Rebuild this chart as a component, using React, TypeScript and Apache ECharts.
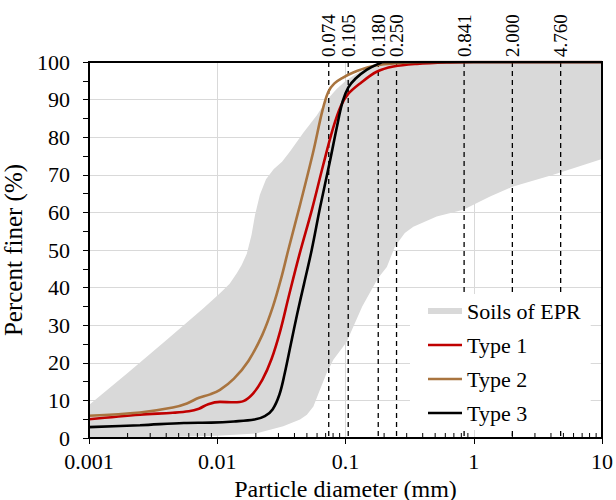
import React, { useEffect, useRef } from 'react';
import * as echarts from 'echarts';

const FONT = '"Liberation Serif", "Times New Roman", serif';

// Gray envelope "Soils of EPR": upper (finer) edge and lower edge, [diameter mm, % finer]
const bandUpper: [number, number][] = [
  [0.001, 8.8], [0.002, 17.3], [0.004, 26], [0.0078, 34.5], [0.0105, 38.5], [0.0125, 41],
  [0.0142, 43.8], [0.0155, 46], [0.017, 49], [0.0185, 54], [0.0197, 59.3], [0.0215, 64.7],
  [0.024, 68.8], [0.0275, 71.5], [0.032, 73.5], [0.0369, 76.2], [0.0469, 81.2], [0.0596, 85.8],
  [0.0713, 89.8], [0.0853, 92.8], [0.102, 95.2], [0.13, 97.5], [0.17, 98.8], [0.25, 99.7],
  [0.35, 100], [10, 100],
];
const bandLower: [number, number][] = [
  [0.001, 0], [0.005, 0.3], [0.01, 0.6], [0.02, 1.2], [0.0327, 3.1], [0.0442, 4.9], [0.05, 6.2],
  [0.0562, 8.4], [0.0632, 12.8], [0.0713, 17.3], [0.0804, 20.8], [0.102, 25.5], [0.135, 35],
  [0.179, 42.5], [0.21, 45.5], [0.243, 50.9], [0.29, 54.5], [0.338, 56.2], [0.514, 58.9],
  [0.83, 60.7], [1.34, 64.2], [2.03, 66.9], [4.17, 70], [10, 74.2],
];

const type1: [number, number][] = [
  [0.001, 5.0], [0.0025, 6.2], [0.0045, 6.7], [0.006, 7.1], [0.0072, 7.8], [0.0085, 9.0],
  [0.0105, 9.6], [0.0135, 9.5], [0.016, 9.8], [0.019, 11.8], [0.0225, 15.5], [0.0265, 21],
  [0.031, 28.5], [0.036, 37.5], [0.0435, 48.5], [0.055, 61], [0.067, 72.6],
  [0.08, 82.4], [0.092, 88.3], [0.105, 91.5], [0.13, 94.3], [0.175, 97.4], [0.236, 98.8],
  [0.36, 99.5], [0.65, 99.9], [1, 100], [10, 100],
];
const type2: [number, number][] = [
  [0.001, 5.9], [0.0025, 6.8], [0.0045, 8.1], [0.0058, 9.2], [0.0072, 10.7], [0.0088, 11.6],
  [0.0105, 12.8], [0.0135, 15.8], [0.0175, 20.5], [0.0225, 27.5], [0.0272, 35],
  [0.0318, 43], [0.0358, 50], [0.0442, 62], [0.0561, 76.2], [0.066, 87], [0.0735, 92.1],
  [0.082, 94.3], [0.095, 95.8], [0.115, 97.2], [0.15, 98.6], [0.2, 99.4], [0.28, 99.8],
  [0.4, 100], [10, 100],
];
const type3: [number, number][] = [
  [0.001, 2.9], [0.0025, 3.4], [0.0055, 4.0], [0.009, 4.1], [0.0135, 4.4], [0.0195, 4.9],
  [0.0235, 5.8], [0.027, 7.6], [0.0305, 11.5], [0.0335, 17], [0.0375, 25], [0.042, 33],
  [0.0475, 41], [0.0545, 50], [0.0635, 61.5], [0.0755, 73.5], [0.086, 83], [0.095, 89.5],
  [0.105, 93.2], [0.12, 95.6], [0.146, 97.9], [0.18, 99.5], [0.2, 100], [10, 100],
];

const sieveSizes = [0.074, 0.105, 0.18, 0.25, 0.841, 2.0, 4.76];
const sieveLabels = ['0.074', '0.105', '0.180', '0.250', '0.841', '2.000', '4.760'];

const xDecades = [0.001, 0.01, 0.1, 1, 10];
const xTickLabels = ['0.001', '0.01', '0.1', '1', '10'];

// log-spaced minor tick positions (2..9 within each decade)
const minorTicks: number[] = [];
for (let d = 0; d < xDecades.length - 1; d++) {
  for (let m = 2; m <= 9; m++) minorTicks.push(xDecades[d] * m);
}

export default function App() {
  const ref = useRef<HTMLDivElement>(null);

  useEffect(() => {
    if (!ref.current) return;
    const chart = echarts.init(ref.current, null, { renderer: 'svg' });

    const fmtX = (v: number) => {
      let best = 0;
      for (let i = 0; i < xDecades.length; i++) {
        if (Math.abs(Math.log10(v) - Math.log10(xDecades[i])) < Math.abs(Math.log10(v) - Math.log10(xDecades[best]))) best = i;
      }
      return xTickLabels[best];
    };

    const lineSeries = (name: string, data: [number, number][], color: string) => ({
      type: 'line',
      name,
      data,
      xAxisIndex: 0,
      yAxisIndex: 0,
      showSymbol: false,
      symbol: 'none',
      smooth: 0.35,
      lineStyle: { color, width: 2.6 },
      itemStyle: { color },
      z: 4,
    });

    const lineIcon = 'path://M0,0H34V2.6H0Z';

    chart.setOption({
      animation: false,
      grid: {
        left: 89, right: 14, top: 62, bottom: 62,
        outerBoundsMode: 'none',
        containLabel: false,
        show: true, borderColor: '#000', borderWidth: 2, backgroundColor: 'transparent', z: 10,
      },
      legend: {
        orient: 'vertical',
        left: 410,
        top: 294,
        padding: [6, 10, 6, 18],
        backgroundColor: '#fff',
        itemWidth: 34,
        itemHeight: 6,
        itemGap: 12,
        textStyle: { fontFamily: FONT, fontSize: 22, color: '#000' },
        data: [
          { name: 'Soils of EPR', icon: 'rect', itemStyle: { color: '#d9d9d9' } },
          { name: 'Type 1', icon: lineIcon },
          { name: 'Type 2', icon: lineIcon },
          { name: 'Type 3', icon: lineIcon },
        ],
        z: 20,
      },
      xAxis: [
        {
          type: 'log', logBase: 10, min: 0.001, max: 10, position: 'bottom', z: 6,
          name: 'Particle diameter (mm)', nameLocation: 'middle', nameGap: 25,
          nameTextStyle: { fontFamily: FONT, fontSize: 24, color: '#000' },
          axisLine: { show: true, lineStyle: { color: '#000', width: 2 } },
          axisTick: { show: true, inside: false, length: 6, lineStyle: { color: '#000', width: 1 } },
          axisLabel: { fontFamily: FONT, fontSize: 22, color: '#000', margin: 12, formatter: fmtX },
          splitLine: { show: false },
          minorTick: { show: false },
        },
        {
          type: 'log', logBase: 10, min: 0.001, max: 10, position: 'top', z: 0,
          axisLine: { show: false }, axisTick: { show: false }, axisLabel: { show: false },
          splitLine: { show: true, lineStyle: { color: '#d9d9d9', width: 1 } },
        },
      ],
      yAxis: [
        {
          type: 'value', min: 0, max: 100, interval: 5, position: 'left', z: 6,
          name: 'Percent finer (%)', nameLocation: 'middle', nameGap: 38,
          nameTextStyle: { fontFamily: FONT, fontSize: 25, color: '#000' },
          axisLine: { show: true, lineStyle: { color: '#000', width: 2 } },
          axisTick: { show: true, inside: false, length: 6, lineStyle: { color: '#000', width: 1 } },
          axisLabel: {
            fontFamily: FONT, fontSize: 22, color: '#000', margin: 19,
            formatter: (v: number) => (v % 10 === 0 ? String(v) : ''),
          },
          splitLine: { show: false },
        },
        {
          type: 'value', min: 0, max: 100, interval: 10, position: 'right', z: 0,
          axisLine: { show: false }, axisTick: { show: false }, axisLabel: { show: false },
          splitLine: { show: true, lineStyle: { color: '#d9d9d9', width: 1.2 } },
        },
      ],
      series: [
        {
          type: 'custom',
          name: 'Soils of EPR',
          xAxisIndex: 0, yAxisIndex: 0,
          itemStyle: { color: '#d9d9d9' },
          data: [[0.01, 50]],
          z: 1,
          renderItem: (_params: any, api: any) => {
            const pts = bandUpper.map((p) => api.coord(p))
              .concat(bandLower.slice().reverse().map((p) => api.coord(p)));
            return { type: 'polygon', shape: { points: pts }, style: { fill: '#d9d9d9', stroke: 'none' } };
          },
        },
        {
          type: 'custom',
          name: 'sieves',
          xAxisIndex: 0, yAxisIndex: 0,
          data: sieveSizes.map((v) => [v, 100]),
          z: 3,
          renderItem: (params: any, api: any) => {
            const x = api.value(0);
            const top = api.coord([x, 100]);
            const bot = api.coord([x, 0]);
            return {
              type: 'group',
              children: [
                {
                  type: 'line',
                  shape: { x1: top[0], y1: top[1], x2: bot[0], y2: bot[1] },
                  style: { stroke: '#000', lineWidth: 1.3, lineDash: [5, 4] },
                },
                {
                  type: 'text',
                  x: top[0],
                  y: top[1] - 5,
                  rotation: Math.PI / 2,
                  style: {
                    text: sieveLabels[params.dataIndex],
                    fill: '#000',
                    font: '19px "Liberation Serif"',
                    align: 'left',
                    verticalAlign: 'middle',
                  },
                },
              ],
            };
          },
        },
        lineSeries('Type 1', type1, '#c00000'),
        lineSeries('Type 2', type2, '#a9743f'),
        lineSeries('Type 3', type3, '#000000'),
        {
          type: 'custom',
          name: 'minorTicks',
          xAxisIndex: 0, yAxisIndex: 0,
          data: minorTicks.map((v) => [v, 0]),
          z: 5,
          renderItem: (_params: any, api: any) => {
            const p = api.coord([api.value(0), 0]);
            return {
              type: 'line',
              shape: { x1: p[0], y1: p[1], x2: p[0], y2: p[1] - 5 },
              style: { stroke: '#000', lineWidth: 1 },
            };
          },
        },
      ],
    });

    return () => chart.dispose();
  }, []);

  return (
    <div
      ref={ref}
      style={{ position: 'fixed', left: 0, top: 0, width: 616, height: 500, background: '#fff' }}
    />
  );
}
